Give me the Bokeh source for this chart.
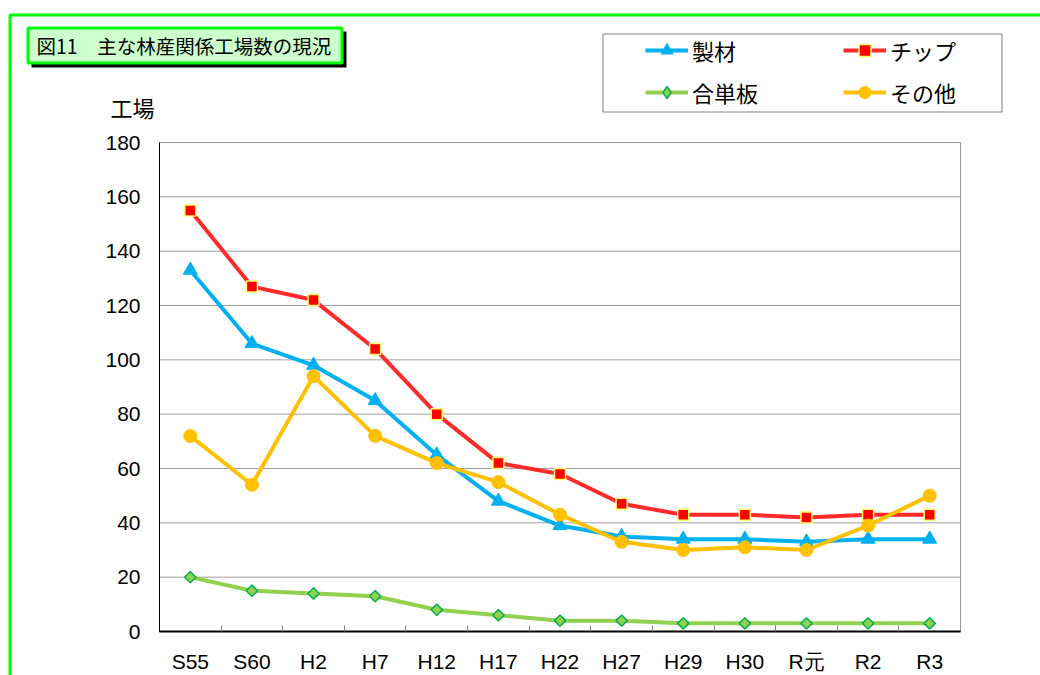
import math
from bokeh.plotting import figure
from bokeh.models import (FixedTicker, Legend, LegendItem, Label, BoxAnnotation, Range1d, LinearAxis)
from bokeh.embed import file_html
from bokeh.resources import INLINE

# ---- data ----
categories = ["S55", "S60", "H2", "H7", "H12", "H17", "H22", "H27", "H29", "H30", "R元", "R2", "R3"]
seizai = [133, 106, 98, 85, 65, 48, 39, 35, 34, 34, 33, 34, 34]
chip = [155, 127, 122, 104, 80, 62, 58, 47, 43, 43, 42, 43, 43]
gohan = [20, 15, 14, 13, 8, 6, 4, 4, 3, 3, 3, 3, 3]
sonota = [72, 54, 94, 72, 62, 55, 43, 33, 30, 31, 30, 39, 50]
series_names = ["製材", "チップ", "合単板", "その他"]
y_ticks = [0, 20, 40, 60, 80, 100, 120, 140, 160, 180]
title_text = "図11　主な林産関係工場数の現況"
y_label_text = "工場"

xs = list(range(len(categories)))
JP = "Noto Sans CJK JP"

# ---- layout (pixels) ----
W, H = 1040, 675
PL, PR, PT, PB = 159, 960, 142, 631       # plot area in page pixels
x_lo, x_hi = -0.5, len(categories) - 0.5
y_lo, y_hi = y_ticks[0], y_ticks[-1]
kx = (PR - PL) / (x_hi - x_lo)
ky = (PB - PT) / (y_hi - y_lo)
xr = Range1d(x_lo - PL / kx, x_hi + (W - PR) / kx)
yr = Range1d(y_lo - (H - PB) / ky, y_hi + PT / ky)

p = figure(width=W, height=H, output_backend="svg", toolbar_location=None,
           x_range=xr, y_range=yr, x_axis_type=None, y_axis_type=None,
           min_border_left=0, min_border_right=0, min_border_top=0, min_border_bottom=0)
p.background_fill_color = "white"
p.border_fill_color = "white"
p.outline_line_color = None
p.xgrid.visible = False
p.ygrid.visible = False

# plot-area frame (right/top border)
p.add_layout(BoxAnnotation(left=x_lo, right=x_hi, bottom=y_lo, top=y_hi,
                           fill_alpha=0, line_color="#999999", line_alpha=1, line_width=1, level="underlay"))
# dotted horizontal gridlines
p.segment(x0=[x_lo] * len(y_ticks), x1=[x_hi] * len(y_ticks), y0=y_ticks, y1=y_ticks,
          line_color="#404040", line_dash="1 1", line_width=1, level="underlay")

# axes
xaxis = LinearAxis(fixed_location=y_lo, bounds=(x_lo, x_hi))
xaxis.ticker = FixedTicker(ticks=xs, minor_ticks=[i + 0.5 for i in range(len(categories) - 1)])
xaxis.major_label_overrides = {i: c for i, c in enumerate(categories)}
xaxis.major_tick_line_color = None
xaxis.minor_tick_in = 6
xaxis.minor_tick_out = 0
xaxis.minor_tick_line_color = "#808080"
xaxis.axis_line_color = "black"
xaxis.axis_line_width = 2
xaxis.major_label_standoff = 12
xaxis.major_label_text_font = "Liberation Sans"
xaxis.major_label_text_font_size = "21px"
xaxis.major_label_text_color = "black"
p.add_layout(xaxis, "below")

yaxis = LinearAxis(fixed_location=x_lo, bounds=(y_lo, y_hi))
yaxis.ticker = FixedTicker(ticks=y_ticks)
yaxis.major_tick_out = 0
yaxis.major_tick_in = 0
yaxis.minor_tick_line_color = None
yaxis.axis_line_color = "black"
yaxis.axis_line_width = 1
yaxis.major_label_standoff = 19
yaxis.major_label_text_font = "Liberation Sans"
yaxis.major_label_text_font_size = "21px"
yaxis.major_label_text_color = "black"
p.add_layout(yaxis, "left")

# series
items = []
specs = [
    (seizai, "#00B0F0", dict(marker="triangle", size=14, fill_color="#00B0F0", line_color="#00B0F0"), None),
    (chip, "#FF2A2A", dict(marker="square", size=11, fill_color="#FF0000", line_color="#FFFF66", line_width=1.5), None),
    (gohan, "#92D050", dict(marker="square", size=8, angle=math.pi / 4, fill_color="#92D050", line_color="#00B050", line_width=1.5),
     dict(marker="diamond", size=14, fill_color="#92D050", line_color="#00B050", line_width=1.5)),
    (sonota, "#FFC000", dict(marker="circle", size=13, fill_color="#FFC000", line_color="#FFC000"), None),
]
nan = float("nan")
for name, (vals, col, mk, legend_mk) in zip(series_names, specs):
    lr = p.line(xs, vals, line_color=col, line_width=4)
    sr = p.scatter(xs, vals, **mk)
    if legend_mk is not None:
        # legend swatch only (NaN position -> nothing drawn in the plot)
        sr = p.scatter(x=[nan], y=[nan], **legend_mk)
    items.append(LegendItem(label=name, renderers=[lr, sr]))

# page pixel -> frame screen units (frame == canvas)
def sx(px):
    return px

def sy(py):
    return H - py

SU = dict(left_units="screen", right_units="screen", top_units="screen", bottom_units="screen")
# green page border
p.add_layout(BoxAnnotation(left=sx(9.5), right=sx(W + 50), top=sy(14.5), bottom=sy(H + 50), **SU,
                           fill_alpha=0, line_color="#00FF00", line_alpha=1, line_width=3))
# title box shadow + box
p.add_layout(BoxAnnotation(left=sx(31), right=sx(346), top=sy(31), bottom=sy(67), **SU,
                           fill_color="black", fill_alpha=1, line_alpha=0))
p.add_layout(BoxAnnotation(left=sx(27.5), right=sx(341.5), top=sy(27.5), bottom=sy(62.5), **SU,
                           fill_color="#CCFFCC", fill_alpha=1, line_color="#00FF00", line_alpha=1, line_width=3))
p.add_layout(Label(x=sx(36), y=sy(45), x_units="screen", y_units="screen", text=title_text,
                   text_font=JP, text_font_size="19.5px", text_baseline="middle", text_color="black"))
# y axis label
p.add_layout(Label(x=sx(110), y=sy(106), x_units="screen", y_units="screen", text=y_label_text,
                   text_font=JP, text_font_size="22px", text_baseline="middle", text_color="black"))
# legend box
p.add_layout(BoxAnnotation(left=sx(602.5), right=sx(1001.5), top=sy(33.5), bottom=sy(111.5), **SU,
                           fill_alpha=0, line_color="#808080", line_alpha=1, line_width=1))

legend = Legend(items=items, location=(sx(645), sy(108)), orientation="horizontal", ncols=2,
                glyph_width=43, glyph_height=30, label_height=30, label_width=141, spacing=10,
                padding=0, margin=0, border_line_alpha=0, background_fill_alpha=0,
                label_text_font=JP, label_text_font_size="22px", label_standoff=4,
                label_text_color="black")
p.add_layout(legend)

open("out.html", "w").write(file_html(p, INLINE))
